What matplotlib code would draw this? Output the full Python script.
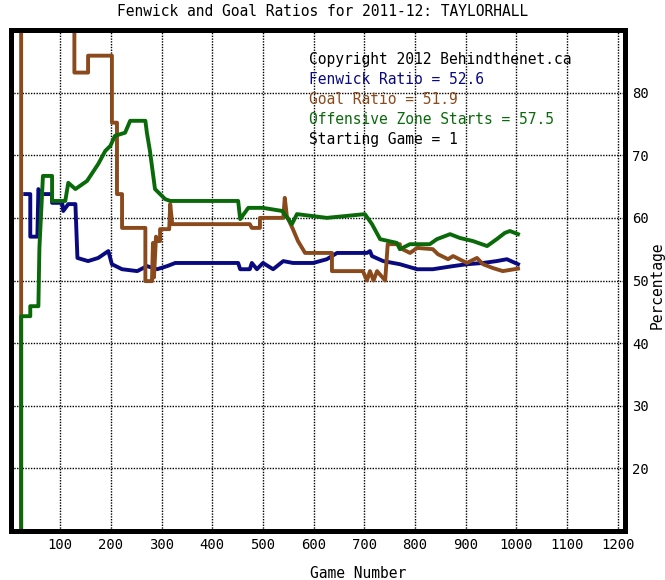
import numpy as np
import matplotlib
matplotlib.use('Agg')
import matplotlib.pyplot as plt

plt.rcParams['font.family'] = ['DejaVu Sans Mono']

# Fenwick ratio (navy)
fen_game = [31, 41, 41, 55, 57, 62, 84, 84, 104, 106, 116, 130, 134, 155, 175, 195, 202, 222, 252,
            271, 291, 311, 327, 451, 455, 474, 478, 488, 500, 520, 540, 559, 599, 626, 646, 705,
            711, 715, 737, 770, 804, 835, 875, 902, 934, 961, 981, 1003]
fen_pct = [63.8, 63.8, 57.0, 57.0, 64.6, 63.8, 63.8, 62.4, 62.4, 61.1, 62.2, 62.2, 53.6, 53.1,
           53.6, 54.7, 52.6, 51.8, 51.5, 52.3, 51.8, 52.3, 52.8, 52.8, 51.8, 51.8, 52.8, 51.8,
           52.8, 51.8, 53.1, 52.8, 52.8, 53.4, 54.4, 54.4, 54.7, 53.9, 53.1, 52.6, 51.8, 51.8,
           52.3, 52.6, 52.8, 53.1, 53.4, 52.6]

# Goal ratio (brown)
goal_game = [23, 23, 128, 128, 155, 155, 202, 202, 212, 212, 222, 222, 268, 268, 281, 283, 285,
             289, 291, 297, 297, 315, 317, 321, 474, 478, 494, 494, 540, 543, 547, 559, 569, 583,
             636, 636, 697, 705, 711, 718, 725, 741, 746, 770, 770, 790, 804, 835, 845, 865, 875,
             902, 922, 934, 953, 973, 1003]
goal_pct = [0, 100, 100, 83.2, 83.2, 85.9, 85.9, 75.2, 75.2, 63.8, 63.8, 58.4, 58.4, 49.9, 49.9,
            56.0, 50.5, 57.0, 56.3, 56.3, 58.2, 58.2, 62.2, 59.0, 59.0, 58.4, 58.4, 60.0, 60.0,
            63.2, 60.3, 58.2, 56.3, 54.4, 54.4, 51.5, 51.5, 50.0, 51.5, 50.0, 51.5, 50.0, 55.8,
            55.8, 55.2, 54.4, 55.2, 55.0, 54.2, 53.4, 53.9, 52.8, 53.6, 52.6, 52.0, 51.5, 51.9]

# Offensive zone starts (green)
ozs_game = [23, 23, 41, 41, 57, 59, 66, 84, 84, 110, 116, 130, 153, 175, 189, 199, 208, 228, 238,
            268, 271, 277, 287, 307, 317, 451, 455, 471, 500, 538, 557, 567, 626, 701, 715, 731,
            764, 770, 790, 829, 843, 869, 888, 914, 942, 961, 977, 987, 1003]
ozs_pct = [0, 44.3, 44.3, 45.9, 45.9, 55.2, 66.7, 66.7, 62.7, 62.7, 65.6, 64.6, 65.9, 68.6, 70.7,
           71.5, 73.1, 73.6, 75.5, 75.5, 73.6, 70.7, 64.6, 63.0, 62.7, 62.7, 59.8, 61.6, 61.6,
           61.1, 59.0, 60.6, 60.0, 60.6, 59.0, 56.6, 56.0, 55.0, 55.8, 55.8, 56.6, 57.4, 56.8,
           56.3, 55.5, 56.6, 57.6, 57.9, 57.4]

x_ticks = list(range(100, 1300, 100))
y_ticks = [20, 30, 40, 50, 60, 70, 80]

info_lines = ['Copyright 2012 Behindthenet.ca', 'Fenwick Ratio = 52.6',
              'Goal Ratio = 51.9', 'Offensive Zone Starts = 57.5', 'Starting Game = 1']
info_colors = ['black', '#0a0a80', '#8b4a1c', '#0a6a0a', 'black']

fig = plt.figure(figsize=(6.65, 5.8), dpi=100)
ax = fig.add_axes([10.5 / 665, 1 - 531 / 580, 614.5 / 665, 501 / 580])

ax.plot(fen_game, fen_pct, color='#0a0a80', lw=2.8)
ax.plot(goal_game, goal_pct, color='#8b4a1c', lw=2.8)
ax.plot(ozs_game, ozs_pct, color='#0a6a0a', lw=2.8)

ax.set_xlim(2, 1214)
ax.set_ylim(10, 90)
ax.set_xticks(x_ticks)
ax.set_yticks(y_ticks)
ax.yaxis.tick_right()
ax.yaxis.set_label_position('right')
ax.tick_params(length=0, labelsize=10, pad=5)
ax.grid(True, color='black', lw=1, ls=(0, (1, 1)))

for s in ax.spines.values():
    s.set_linewidth(3.6)
    s.set_color('black')

ax.set_xlabel('Game Number', fontsize=10.5)
ax.xaxis.set_label_coords(0.566, -0.07)
ax.set_ylabel('Percentage', fontsize=10.5, va='center')
ax.yaxis.set_label_coords(1.052, 0.49)

fig.text(323 / 665, 1 - 12 / 580, 'Fenwick and Goal Ratios for 2011-12: TAYLORHALL',
         ha='center', va='center', fontsize=10.5)

for i, (t, c) in enumerate(zip(info_lines, info_colors)):
    ax.text(0.486, 0.942 - i * 0.04, t, color=c, fontsize=10.5,
            transform=ax.transAxes, ha='left', va='center')

fig.savefig('out.png', dpi=100)
